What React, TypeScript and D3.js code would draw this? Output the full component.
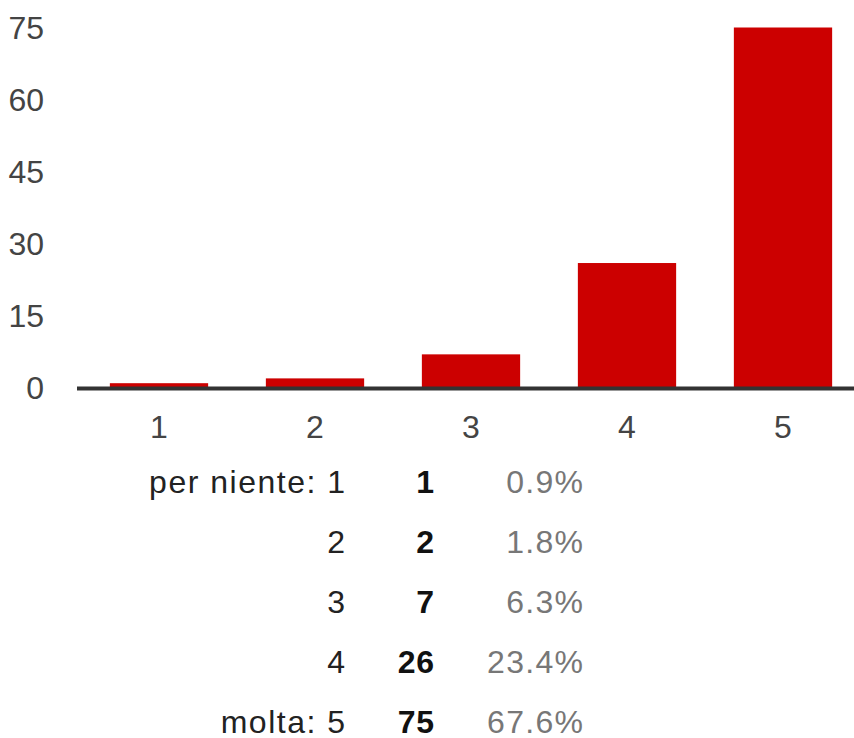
import React, { useEffect, useRef } from 'react';
import * as d3 from 'd3';

// values
const categories = ['1', '2', '3', '4', '5'];
const counts = [1, 2, 7, 26, 75];
const yTicks = [0, 15, 30, 45, 60, 75];
const rowLabels = ['per niente: 1', '2', '3', '4', 'molta: 5'];
const percentLabels = ['0.9%', '1.8%', '6.3%', '23.4%', '67.6%'];

const width = 854;
const height = 738;
const font = '"Liberation Sans", Arial, sans-serif';

const App = () => {
  const ref = useRef<SVGSVGElement>(null);

  useEffect(() => {
    const svg = d3.select(ref.current);
    svg.selectAll('*').remove();

    const x = d3.scaleBand()
      .domain(categories)
      .range([81, 861])
      .paddingInner(0.37)
      .paddingOuter(0.185);

    const y = d3.scaleLinear()
      .domain([0, 75])
      .range([388, 27.5]);

    // y tick labels
    svg.append('g')
      .selectAll('text')
      .data(yTicks)
      .join('text')
      .attr('x', 44)
      .attr('y', d => y(d))
      .attr('dy', '0.35em')
      .attr('text-anchor', 'end')
      .attr('fill', '#444')
      .style('font-family', font)
      .style('font-size', '32px')
      .text(d => d);

    // bars
    svg.append('g')
      .selectAll('rect')
      .data(counts)
      .join('rect')
      .attr('x', (d, i) => x(categories[i]))
      .attr('y', d => y(d))
      .attr('width', x.bandwidth())
      .attr('height', d => y(0) - y(d))
      .attr('fill', '#cc0000');

    // baseline
    svg.append('line')
      .attr('x1', 77)
      .attr('x2', width)
      .attr('y1', y(0) + 0.5)
      .attr('y2', y(0) + 0.5)
      .attr('stroke', '#333')
      .attr('stroke-width', 4);

    // x tick labels
    svg.append('g')
      .selectAll('text')
      .data(categories)
      .join('text')
      .attr('x', d => x(d) + x.bandwidth() / 2)
      .attr('y', 438)
      .attr('text-anchor', 'middle')
      .attr('fill', '#444')
      .style('font-family', font)
      .style('font-size', '32px')
      .text(d => d);

    // summary table
    const row = d3.scalePoint()
      .domain(d3.range(rowLabels.length).map(String))
      .range([493, 733]);

    const table = svg.append('g')
      .style('font-family', font)
      .style('font-size', '32px');

    // letter-spacing trails the last glyph, so shift right by the same amount
    table.selectAll('text.label')
      .data(rowLabels)
      .join('text')
      .attr('class', 'label')
      .attr('x', 345 + 1.5)
      .attr('y', (d, i) => row(String(i)))
      .attr('text-anchor', 'end')
      .attr('fill', '#222')
      .style('letter-spacing', '1.5px')
      .text(d => d);

    table.selectAll('text.count')
      .data(counts)
      .join('text')
      .attr('class', 'count')
      .attr('x', 434 + 0.7)
      .attr('y', (d, i) => row(String(i)))
      .attr('text-anchor', 'end')
      .attr('fill', '#111')
      .style('font-weight', 'bold')
      .style('letter-spacing', '0.7px')
      .text(d => d);

    table.selectAll('text.pct')
      .data(percentLabels)
      .join('text')
      .attr('class', 'pct')
      .attr('x', 583 + 1.3)
      .attr('y', (d, i) => row(String(i)))
      .attr('text-anchor', 'end')
      .attr('fill', '#777')
      .style('letter-spacing', '1.3px')
      .text(d => d);
  }, []);

  return (
    <svg
      ref={ref}
      width={width}
      height={height}
      style={{ position: 'absolute', left: 0, top: 0, background: '#fff' }}
    />
  );
};

export default App;
